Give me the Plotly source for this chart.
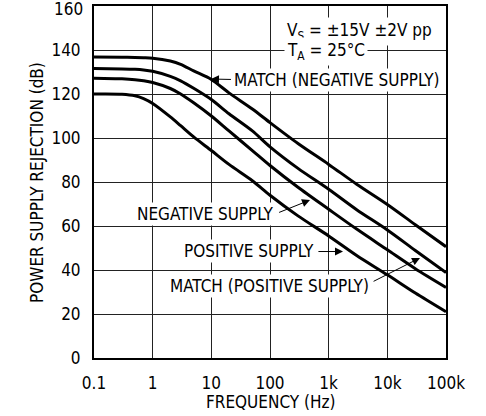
import numpy as np
import plotly.graph_objects as go

# Frequency (Hz) sample points
freq = [0.1, 0.3, 0.5, 0.7, 1, 2, 3, 5, 10, 20, 50, 100, 300, 1e3, 3e3, 1e4, 3e4, 1e5]

# Power supply rejection (dB)
match_negative = [136.8, 136.7, 136.6, 136.5, 136.3, 135.0, 133.5, 130.5, 126.6, 120.5, 113.2, 107.0, 97.5, 88.0, 79.0, 69.8, 60.6, 50.6]
match_positive = [131.6, 131.4, 131.2, 130.9, 130.3, 128.0, 126.0, 122.6, 117.5, 111.0, 103.2, 96.0, 86.2, 76.7, 67.4, 58.2, 48.9, 38.8]
negative_supply = [127.2, 126.9, 126.5, 126.0, 125.2, 122.5, 120.0, 116.0, 110.0, 103.2, 94.3, 87.5, 77.6, 67.6, 58.6, 49.2, 40.6, 32.1]
positive_supply = [120.0, 119.9, 119.2, 117.9, 115.7, 109.6, 105.6, 100.5, 94.3, 88.0, 80.6, 74.0, 64.6, 55.5, 46.6, 37.8, 29.5, 21.0]

xtick_vals = [0.1, 1, 10, 100, 1e3, 1e4, 1e5]
xtick_text = ["0.1", "1", "10", "100", "1k", "10k", "100k"]
ytick_vals = [0, 20, 40, 60, 80, 100, 120, 140, 160]
# top label (160) is drawn separately, nudged down so it stays inside the page
ytick_text = ["0", "20", "40", "60", "80", "100", "120", "140", ""]
ytop_label = "160"

FONT = "Liberation Sans Narrow, Arial Narrow, DejaVu Sans Condensed, sans-serif"

fig = go.Figure()
for ys in [match_negative, match_positive, negative_supply, positive_supply]:
    fig.add_trace(go.Scatter(x=freq, y=ys, mode="lines",
                             line=dict(color="black", width=3, shape="spline", smoothing=0.8),
                             showlegend=False, hoverinfo="skip"))

annotations = [
    # condition text block
    dict(x=np.log10(170), y=148.3, xref="x", yref="y", xanchor="left", yanchor="middle",
         text="V<sub>S</sub> = ±15V ±2V pp", showarrow=False, bgcolor="white", borderpad=2),
    dict(x=np.log10(170), y=139.2, xref="x", yref="y", xanchor="left", yanchor="middle",
         text="T<sub>A</sub> = 25°C", showarrow=False, bgcolor="white", borderpad=2),
    # curve labels
    dict(x=1.36, y=126.4, xref="x", yref="y", xanchor="left", yanchor="middle",
         text="MATCH (NEGATIVE SUPPLY)", showarrow=False, bgcolor="white", borderpad=1),
    dict(x=2.11, y=65.6, xref="x", yref="y", xanchor="right", yanchor="middle",
         text="NEGATIVE SUPPLY", showarrow=False, bgcolor="white", borderpad=1),
    dict(x=2.78, y=48.6, xref="x", yref="y", xanchor="right", yanchor="middle",
         text="POSITIVE SUPPLY", showarrow=False, bgcolor="white", borderpad=1),
    dict(x=3.73, y=32.7, xref="x", yref="y", xanchor="right", yanchor="middle",
         text="MATCH (POSITIVE SUPPLY)", showarrow=False, bgcolor="white", borderpad=1),
    # arrows (tail -> tip)
    dict(x=0.994, y=126.8, ax=1.36, ay=126.6, xref="x", yref="y", axref="x", ayref="y",
         text="", showarrow=True, arrowhead=2, arrowsize=1.6, arrowwidth=1, arrowcolor="black", standoff=0),
    dict(x=2.682, y=71.8, ax=2.13, ay=65.9, xref="x", yref="y", axref="x", ayref="y",
         text="", showarrow=True, arrowhead=2, arrowsize=1.6, arrowwidth=1, arrowcolor="black", standoff=0),
    dict(x=3.244, y=48.4, ax=2.80, ay=48.4, xref="x", yref="y", axref="x", ayref="y",
         text="", showarrow=True, arrowhead=2, arrowsize=1.6, arrowwidth=1, arrowcolor="black", standoff=0),
    dict(x=4.557, y=45.5, ax=3.74, ay=34.5, xref="x", yref="y", axref="x", ayref="y",
         text="", showarrow=True, arrowhead=2, arrowsize=1.6, arrowwidth=1, arrowcolor="black", standoff=0),
    # top y tick label
    dict(x=-0.028, y=0.9915, xref="paper", yref="paper", xanchor="right", yanchor="middle",
         text=ytop_label, showarrow=False, borderpad=0),
    # axis titles
    dict(x=0.5, y=-0.125, xref="paper", yref="paper", xanchor="center", yanchor="middle",
         text="FREQUENCY (Hz)", showarrow=False),
    dict(x=-0.162, y=0.5, xref="paper", yref="paper", xanchor="center", yanchor="middle",
         text="POWER SUPPLY REJECTION (dB)", showarrow=False, textangle=-90),
]

fig.update_layout(
    width=486, height=416,
    margin=dict(l=94, r=40, t=6, b=58, autoexpand=False),
    paper_bgcolor="white", plot_bgcolor="white",
    font=dict(family=FONT, size=17, color="black"),
    annotations=annotations,
    xaxis=dict(type="log", range=[-1, 5], tickvals=xtick_vals, ticktext=xtick_text,
               showgrid=True, gridcolor="#222", gridwidth=1, automargin=False,
               ticklabeloverflow="allow",
               showline=True, linecolor="black", linewidth=2, mirror=True,
               ticks="outside", ticklen=9, tickcolor="rgba(0,0,0,0)", zeroline=False),
    yaxis=dict(range=[0, 160], tickvals=ytick_vals, ticktext=ytick_text,
               showgrid=True, gridcolor="#222", gridwidth=1, automargin=False,
               ticklabeloverflow="allow",
               showline=True, linecolor="black", linewidth=2, mirror=True,
               ticks="outside", ticklen=8, tickcolor="rgba(0,0,0,0)", zeroline=False),
)

fig.write_html("out.html", config={"displayModeBar": False},
               post_script="document.body.style.margin='0';document.body.style.padding='0';")
